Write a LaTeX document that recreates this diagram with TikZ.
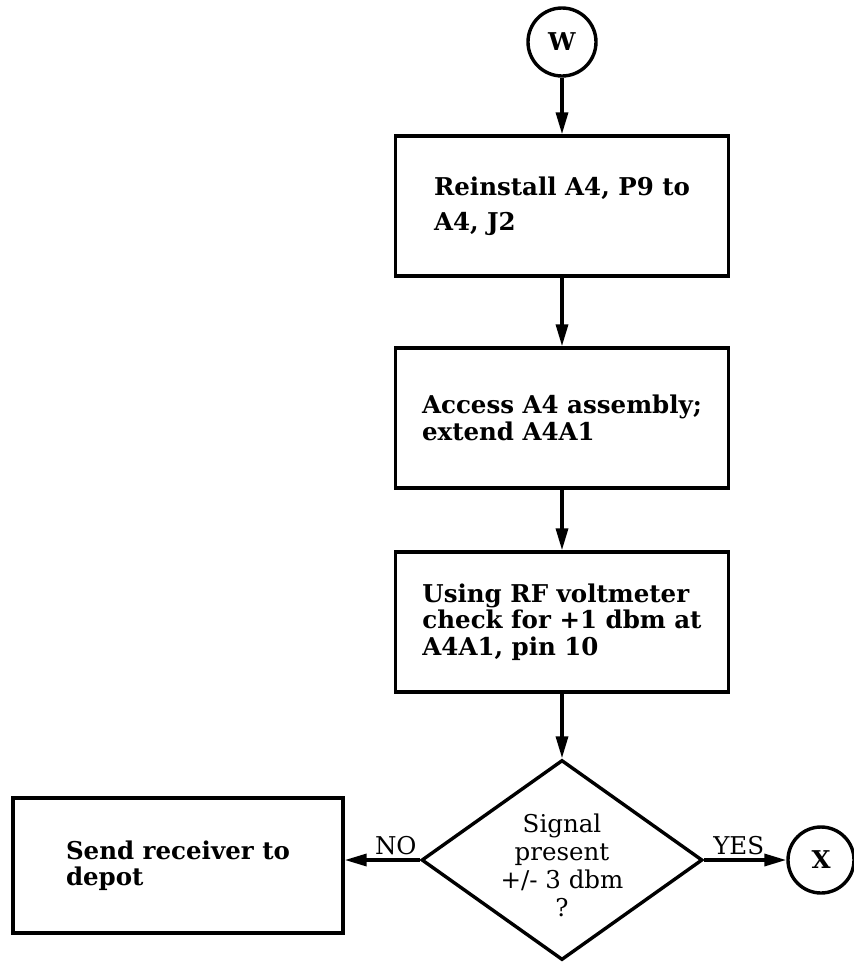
\documentclass[tikz,border=0pt]{standalone}
\usepackage{fontspec}
\setmainfont{DejaVu Serif}
\usetikzlibrary{arrows.meta,shapes.geometric}
\newcommand\chartfont{\fontsize{24.5}{26.5}\selectfont}
\tikzset{
  >={Triangle[length=22pt,width=12pt]},
  every node/.style={font=\chartfont},
  stepbox/.style={draw, line width=3.4pt, minimum width=333pt, minimum height=140pt,
                  inner sep=0pt, align=left, font=\chartfont\bfseries},
  endbox/.style={draw, line width=3.4pt, minimum width=330pt, minimum height=135pt,
                 inner sep=0pt, align=left, font=\chartfont\bfseries},
  decision/.style={diamond, draw, line width=3.4pt, minimum width=281pt,
                   minimum height=200pt, inner sep=0pt},
  dectext/.style={align=center, font=\fontsize{24.5}{28}\selectfont},
  connector/.style={circle, draw, line width=3.4pt, minimum size=68pt,
                    inner sep=0pt, font=\chartfont\bfseries},
  flow/.style={->, line width=3.4pt},
  answer/.style={above, inner sep=3pt},
}

\begin{document}
\begin{tikzpicture}[x=1pt, y=-1pt]
  \useasboundingbox (0,0) rectangle (854,962);

  % ── Main column ──
  \node[connector] (W) at (562,42) {W};
  \node[stepbox] (reinst) at (562,206) {Reinstall A4, P9 to\\[8pt]A4, J2};
  \node[stepbox] (access) at (562,418) {Access A4 assembly;\\extend A4A1};
  \node[stepbox] (rfcheck) at (562,622) {Using RF voltmeter\\check for +1 dbm at\\A4A1, pin 10};

  % ── Decision and its two exits ──
  \node[decision] (signal) at (562,860) {};
  \node[dectext] (signaltext) at ([yshift=-5pt]signal.center) {Signal\\present\\+/- 3 dbm\\?};
  \node[endbox] (send) at (178,865.5) {Send receiver to\\depot};
  \node[connector, minimum size=66pt] (X) at (821,860) {X};

  % ── Flow lines ──
  \draw[flow] (W) -- (reinst);
  \draw[flow] (reinst) -- (access);
  \draw[flow] (access) -- (rfcheck);
  \draw[flow] (rfcheck) -- (signal);
  \draw[flow] (signal.west) -- (signal.west -| send.east)
    node[answer, pos=0.32] {NO};
  \draw[flow] (signal.east) -- (X)
    node[answer, pos=0.42] {YES};
\end{tikzpicture}
\end{document}
